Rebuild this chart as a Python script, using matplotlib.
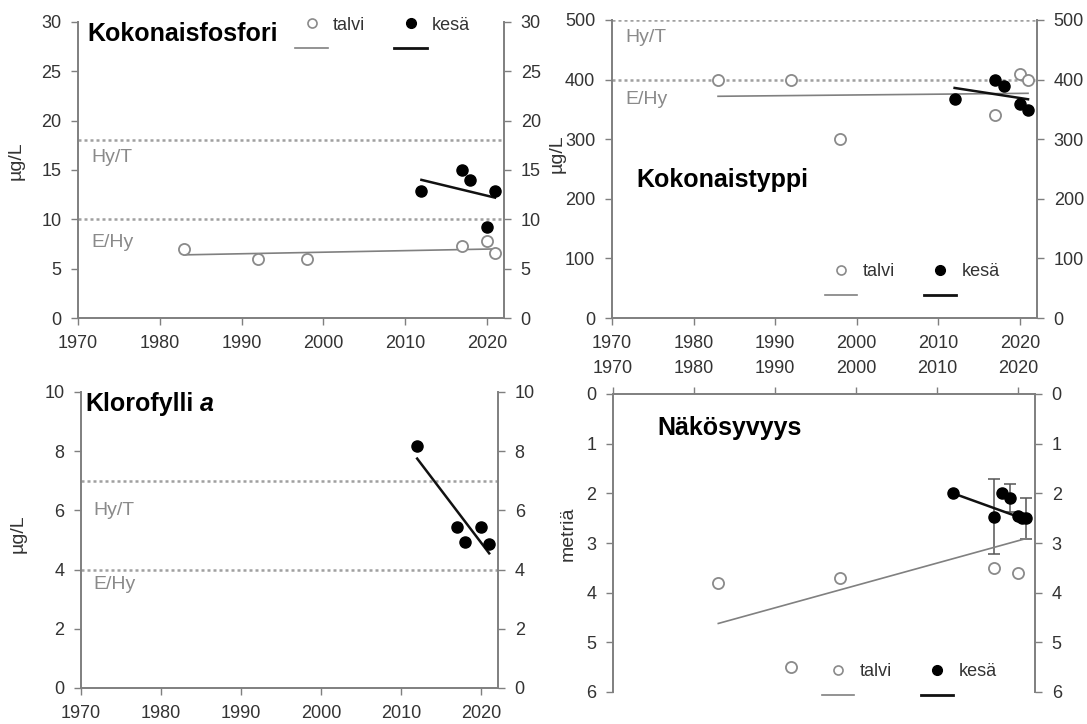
import matplotlib
matplotlib.use("Agg")
import matplotlib.pyplot as plt
from matplotlib.lines import Line2D

plt.rcParams['font.family'] = ['Liberation Sans', 'DejaVu Sans']

# Kokonaisfosfori (ug/L)
tp_talvi_years = [1983, 1992, 1998, 2017, 2020, 2021]
tp_talvi = [7.0, 6.0, 6.0, 7.3, 7.8, 6.6]
tp_kesa_years = [2012, 2017, 2018, 2020, 2021]
tp_kesa = [12.9, 15.0, 14.0, 9.2, 12.9]
tp_talvi_trend_years = [1983, 2021]
tp_talvi_trend = [6.4, 7.0]
tp_kesa_trend_years = [2012, 2021]
tp_kesa_trend = [14.0, 12.2]
tp_limits = [18, 10]

# Kokonaistyppi (ug/L)
tn_talvi_years = [1983, 1992, 1998, 2017, 2020, 2021]
tn_talvi = [400, 400, 300, 340, 410, 400]
tn_kesa_years = [2012, 2017, 2018, 2020, 2021]
tn_kesa = [367, 400, 389, 359, 349]
tn_talvi_trend_years = [1983, 2021]
tn_talvi_trend = [372, 377]
tn_kesa_trend_years = [2012, 2021]
tn_kesa_trend = [386, 367]
tn_limits = [500, 400]

# Klorofylli a (ug/L)
chl_kesa_years = [2012, 2017, 2018, 2020, 2021]
chl_kesa = [8.17, 5.45, 4.92, 5.45, 4.88]
chl_kesa_trend_years = [2012, 2021]
chl_kesa_trend = [7.75, 4.55]
chl_limits = [7, 4]

# Näkösyvyys (m)
secchi_talvi_years = [1983, 1992, 1998, 2017, 2020]
secchi_talvi = [3.81, 5.5, 3.7, 3.5, 3.61]
secchi_kesa_years = [2012, 2017, 2018, 2019, 2020, 2020.5, 2021]
secchi_kesa = [2.0, 2.47, 2.0, 2.09, 2.45, 2.5, 2.5]
secchi_err_years = [2017, 2019, 2021]
secchi_err_mid = [2.47, 2.09, 2.5]
secchi_err = [0.75, 0.28, 0.41]
secchi_talvi_trend_years = [1983, 2021]
secchi_talvi_trend = [4.62, 2.91]
secchi_kesa_trend_years = [2012, 2021]
secchi_kesa_trend = [2.0, 2.53]

x_ticks = [1970, 1980, 1990, 2000, 2010, 2020]
limit_labels = ['Hy/T', 'E/Hy']

GRAY = '#8a8a8a'
SPINE = '#7f7f7f'
TXT = '#333333'
TICKFS = 13

W, H = 1087, 724
fig = plt.figure(figsize=(W / 100, H / 100), dpi=100)


def make_ax(l, r, t, b):
    return fig.add_axes([l / W, (H - b) / H, (r - l) / W, (b - t) / H])


def style(ax, yticks, ylim, top=False):
    ax.set_xlim(1970, 2022.1)
    ax.set_ylim(*ylim)
    ax.set_xticks(x_ticks)
    ax.set_yticks(yticks)
    for s in ['left', 'right', 'top', 'bottom']:
        ax.spines[s].set_color(SPINE)
        ax.spines[s].set_linewidth(1.4)
    ax.spines['top' if not top else 'bottom'].set_visible(False)
    ax.tick_params(axis='both', direction='out', length=5, width=1,
                   color=SPINE, labelcolor=TXT, labelsize=TICKFS, pad=7)
    ax.tick_params(axis='y', left=True, right=True, labelleft=True,
                   labelright=True)
    if top:
        ax.tick_params(axis='x', top=True, bottom=False, labeltop=True,
                       labelbottom=False)


def limits(ax, vals, label_y):
    for v in vals:
        ax.axhline(v, color='#a0a0a0', ls=(0, (1.2, 1.2)), lw=1.8, zorder=1)
    for lab, y in zip(limit_labels, label_y):
        ax.text(1971.6, y, lab, color=GRAY, fontsize=14, va='center')


def points(ax, tyears, tvals, kyears, kvals):
    if tyears:
        ax.plot(tyears, tvals, 'o', ms=8, mfc='white', mec=GRAY, mew=1.3,
                zorder=4)
    ax.plot(kyears, kvals, 'o', ms=8, color='black', zorder=5)


def trend(ax, years, vals, kesa):
    if kesa:
        ax.plot(years, vals, color='#111111', lw=1.8, zorder=3)
    else:
        ax.plot(years, vals, color='#808080', lw=1.2, zorder=3)


def legend(ax, x, y):
    handles = [
        Line2D([], [], marker='o', ls='none', ms=6.5, mfc='white', mec=GRAY, mew=1.2),
        Line2D([], [], color='#808080', lw=1.2),
        Line2D([], [], marker='o', ls='none', ms=7, color='black'),
        Line2D([], [], color='#111111', lw=2),
    ]
    labels = ['talvi', '', 'kesä', '']
    lg = ax.legend(handles, labels, ncol=2, loc='upper left',
                   bbox_to_anchor=(x, y), frameon=False, fontsize=13,
                   borderpad=0, borderaxespad=0, handlelength=1.8,
                   handletextpad=0.3, columnspacing=1.6, labelspacing=0.45)
    for t in lg.get_texts():
        t.set_color(TXT)


# --- Kokonaisfosfori
ax1 = make_ax(78, 504, 22, 318)
style(ax1, [0, 5, 10, 15, 20, 25, 30], (0, 30))
limits(ax1, tp_limits, [16.3, 7.7])
trend(ax1, tp_talvi_trend_years, tp_talvi_trend, False)
trend(ax1, tp_kesa_trend_years, tp_kesa_trend, True)
points(ax1, tp_talvi_years, tp_talvi, tp_kesa_years, tp_kesa)
ax1.text(1971.2, 28.8, 'Kokonaisfosfori', fontsize=18, fontweight='bold',
         va='center', color='black')
ax1.set_ylabel('µg/L', fontsize=14, color=TXT)
ax1.yaxis.set_label_coords(-0.125, 0.53)
legend(ax1, 0.51, 1.018)

# --- Kokonaistyppi
ax2 = make_ax(612, 1037, 20, 318)
style(ax2, [0, 100, 200, 300, 400, 500], (0, 500))
limits(ax2, tn_limits, [470, 366])
trend(ax2, tn_talvi_trend_years, tn_talvi_trend, False)
trend(ax2, tn_kesa_trend_years, tn_kesa_trend, True)
points(ax2, tn_talvi_years, tn_talvi, tn_kesa_years, tn_kesa)
ax2.text(1973.0, 232, 'Kokonaistyppi', fontsize=18, fontweight='bold',
         va='center', color='black')
ax2.set_ylabel('µg/L', fontsize=14, color=TXT)
ax2.yaxis.set_label_coords(-0.11, 0.55)
legend(ax2, 0.5, 0.183)

# --- Klorofylli a
ax3 = make_ax(81, 498, 392, 688)
style(ax3, [0, 2, 4, 6, 8, 10], (0, 10))
limits(ax3, chl_limits, [6.0, 3.5])
trend(ax3, chl_kesa_trend_years, chl_kesa_trend, True)
points(ax3, [], [], chl_kesa_years, chl_kesa)
t3 = ax3.text(1970.5, 9.2, 'Klorofylli', fontsize=18, fontweight='bold',
              va='bottom', color='black')
ax3.annotate(' a', xy=(1, 0), xycoords=t3, fontsize=18, fontweight='bold',
             fontstyle='italic', va='bottom', ha='left', color='black')
ax3.set_ylabel('µg/L', fontsize=14, color=TXT)
ax3.yaxis.set_label_coords(-0.13, 0.52)

# --- Näkösyvyys
ax4 = make_ax(613, 1035, 394, 692)
style(ax4, [0, 1, 2, 3, 4, 5, 6], (6, 0), top=True)
ax4.errorbar(secchi_err_years, secchi_err_mid, yerr=secchi_err, fmt='none',
             ecolor='#555555', elinewidth=1.1, capsize=4, capthick=1.1, zorder=2)
trend(ax4, secchi_talvi_trend_years, secchi_talvi_trend, False)
trend(ax4, secchi_kesa_trend_years, secchi_kesa_trend, True)
points(ax4, secchi_talvi_years, secchi_talvi, secchi_kesa_years, secchi_kesa)
ax4.text(1975.5, 0.68, 'Näkösyvyys', fontsize=18, fontweight='bold',
         va='center', color='black')
ax4.set_ylabel('metriä', fontsize=14, color=TXT)
ax4.yaxis.set_label_coords(-0.085, 0.53)
legend(ax4, 0.495, 0.097)

fig.savefig('out.png', dpi=100)
